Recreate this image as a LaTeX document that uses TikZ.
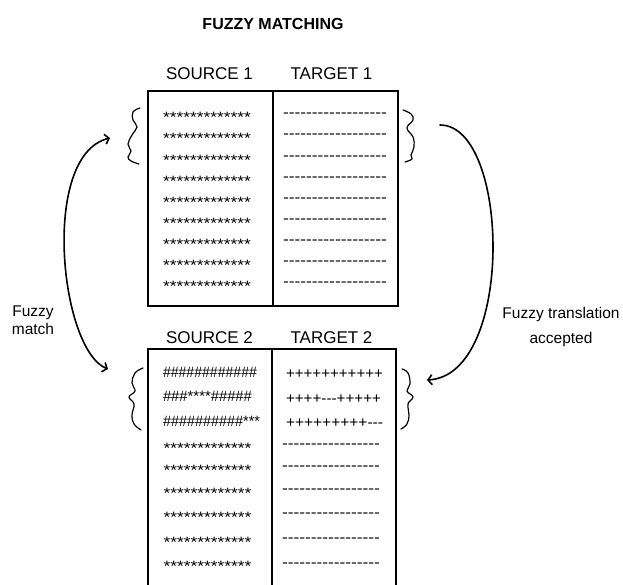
\documentclass[tikz,border=0pt]{standalone}
\usepackage{fontspec}
\setmainfont{Liberation Sans}
\newfontfamily\cellfont{Liberation Sans}[Ligatures=TeXOff]
\usetikzlibrary{arrows.meta}
% stretch a row of filler characters to a given width, keeping its height
\newcommand\fitw[2]{\resizebox{#1}{\height}{#2}}

\begin{document}
\begin{tikzpicture}[x=1pt,y=-1pt,
  boxline/.style={line width=2pt},
  headline/.style={font=\bfseries\fontsize{16}{19}\selectfont, anchor=base, inner sep=0pt},
  heading/.style={font=\fontsize{17}{20}\selectfont, anchor=base, inner sep=0pt},
  celltext/.style={font=\cellfont\fontsize{15}{18}\selectfont, anchor=base, inner sep=0pt},
  sidelabel/.style={font=\fontsize{15.5}{18}\selectfont, align=center, anchor=north, inner sep=0pt},
  wavyline/.style={line width=1.2pt, line cap=round, line join=round},
  arrowline/.style={line width=1.6pt, line cap=round},
  tip/.tip={Straight Barb[length=4pt,width=10pt]},
]
\useasboundingbox (0,0) rectangle (623,584);

% title and column headings
\node[headline] (title) at (273,29.5) {FUZZY MATCHING};
\node[heading] (src1) at (209.5,79.3) {SOURCE 1};
\node[heading] (tgt1) at (331.5,79.3) {TARGET 1};
\node[heading] (src2) at (209.5,343) {SOURCE 2};
\node[heading] (tgt2) at (331.5,343) {TARGET 2};

% first table
\draw[boxline] (148,91) rectangle (397.5,306);
\draw[boxline] (272.5,91) -- (272.5,306);
\foreach \c [count=\i] in {113.5,135,157,178,199,220,241,262,283} {
  \node[celltext] (s1r\i) at (207,\c+8.6) {\fitw{88pt}{*************}};
  \node[celltext] (t1r\i) at (335,\c+3.7) {\fitw{104pt}{------------------}};
}

% second table, running off the bottom edge
\draw[boxline] (147.5,590) -- (147.5,349) -- (396,349) -- (396,590);
\draw[boxline] (272,349) -- (272,590);
\node[celltext] (s2r1) at (210,372+5.3) {\fitw{94pt}{\#\#\#\#\#\#\#\#\#\#\#\#}};
\node[celltext] (s2r2) at (207.5,396+5.3) {\fitw{89pt}{\#\#\#****\#\#\#\#\#}};
\node[celltext] (s2r3) at (211.5,421.5+5.3) {\fitw{97pt}{\#\#\#\#\#\#\#\#\#\#***}};
\node[celltext] (t2r1) at (334.5,373+5.3) {\fitw{97pt}{+++++++++++}};
\node[celltext] (t2r2) at (333.5,398+5.3) {\fitw{95pt}{++++---+++++}};
\node[celltext] (t2r3) at (334.5,422.5+5.3) {\fitw{97pt}{+++++++++---}};
\foreach \c [count=\i from 4] in {445,467,490,514,539,563.3} {
  \node[celltext] (s2r\i) at (207.5,\c+8.6) {\fitw{88pt}{*************}};
  \node[celltext] (t2r\i) at (331,\c+3.7) {\fitw{98pt}{-----------------}};
}

% hand-drawn braces marking the related rows
\draw[wavyline] plot[smooth, tension=0.7] coordinates
  {(140,108) (133,112) (133,120) (137,127) (132,135) (128,144) (131,151) (128,157) (131,161) (139,164)};
\draw[wavyline] plot[smooth, tension=0.7] coordinates
  {(403,110) (411,114) (413,120) (407,128) (413,137) (414,147) (411,155) (412,159) (405,162)};
\draw[wavyline] plot[smooth, tension=0.7] coordinates
  {(143,368) (135,373) (132,383) (135,391) (129,397) (134,404) (132,415) (134,424) (141,430)};
\draw[wavyline] plot[smooth, tension=0.7] coordinates
  {(402,369) (408,373) (410,384) (407,391) (413,397) (408,404) (409,415) (407,424) (401,429)};

% connectors between the marked rows
\coordinate (matchTop) at (110,138);
\coordinate (matchBot) at (108,369);
\coordinate (acceptTop) at (440,125);
\coordinate (acceptBot) at (427,380);
\draw[arrowline, tip-tip] (matchTop) .. controls (40,155) and (60,350) .. (matchBot);
\draw[arrowline, -tip] (acceptTop) .. controls (510,125) and (515,375) .. (acceptBot);

% side labels
\node[sidelabel] (fm) at (33,306) {Fuzzy\\match};
\node[sidelabel] (fta) at (561,306.6) {Fuzzy translation\\[7pt]accepted};
\end{tikzpicture}
\end{document}
